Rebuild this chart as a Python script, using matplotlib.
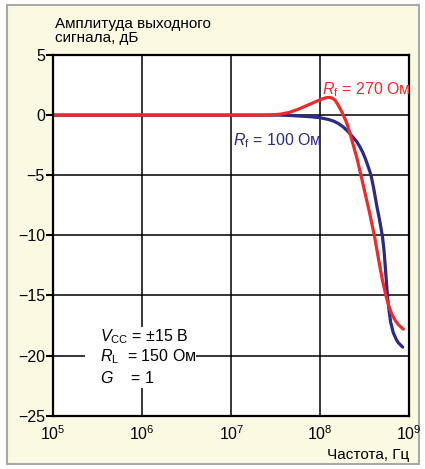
import matplotlib
matplotlib.use("Agg")
import matplotlib.pyplot as plt
from matplotlib.patches import Rectangle
from matplotlib import font_manager

# Frequency response data (log10 of frequency in Hz, amplitude in dB)
logf_270 = [5.0, 7.32, 7.45, 7.55, 7.65, 7.75, 7.85, 7.95, 8.02, 8.06, 8.10, 8.13,
            8.165, 8.20, 8.22, 8.24, 8.258, 8.28, 8.30, 8.334, 8.371, 8.409, 8.457,
            8.50, 8.55, 8.607, 8.65, 8.70, 8.737, 8.767, 8.80, 8.84, 8.88, 8.933]
gain_270 = [0.0, 0.0, 0.02, 0.08, 0.22, 0.48, 0.80, 1.12, 1.34, 1.44, 1.47, 1.43,
            1.25, 0.85, 0.56, 0.30, 0.0, -0.35, -0.72, -1.53, -2.5, -3.5, -5.0,
            -6.4, -8.0, -10.0, -11.8, -13.8, -15.0, -15.8, -16.5, -17.05, -17.45, -17.8]

logf_100 = [5.0, 7.55, 7.65, 7.77, 7.90, 8.00, 8.09, 8.15, 8.202, 8.26, 8.315, 8.36,
            8.409, 8.45, 8.483, 8.51, 8.539, 8.57, 8.60, 8.636, 8.66, 8.68, 8.70,
            8.715, 8.73, 8.745, 8.757, 8.77, 8.79, 8.82, 8.85, 8.873, 8.926]
gain_100 = [0.0, 0.0, -0.03, -0.08, -0.14, -0.22, -0.36, -0.5, -0.69, -1.0, -1.39, -1.78,
            -2.2, -2.7, -3.2, -3.7, -4.3, -5.0, -6.1, -7.6, -8.5, -9.3, -10.2,
            -11.2, -12.6, -14.1, -15.2, -16.1, -17.2, -18.1, -18.6, -18.9, -19.3]

x_ticks = [1e5, 1e6, 1e7, 1e8, 1e9]
x_tick_labels = [r"$10^{5}$", r"$10^{6}$", r"$10^{7}$", r"$10^{8}$", r"$10^{9}$"]
y_ticks = [5, 0, -5, -10, -15, -20, -25]
y_tick_labels = ["5", "0", "\u22125", "\u221210", "\u221215", "\u221220", "\u221225"]

names = {f.name for f in font_manager.fontManager.ttflist}
base = "Liberation Sans Narrow" if "Liberation Sans Narrow" in names else "Liberation Sans"
plt.rcParams["font.family"] = [base, "DejaVu Sans"]
plt.rcParams["mathtext.fontset"] = "custom"
plt.rcParams["mathtext.rm"] = base
plt.rcParams["mathtext.it"] = base + ":italic"
plt.rcParams["mathtext.bf"] = base + ":bold"

RED = "#ee2b2b"
BLUE = "#2c2a85"
CREAM = "#fcf9e3"
FS = 11

fig = plt.figure(figsize=(4.25, 4.69), dpi=100)
fig.patch.set_facecolor("white")
fig.patches.append(Rectangle((7 / 425, 1 - 464 / 469), (419 - 7) / 425, (464 - 5) / 469,
                             transform=fig.transFigure, facecolor=CREAM,
                             edgecolor="#a9a9a9", linewidth=1.5, zorder=-10))

ax = fig.add_axes([53.3 / 425, 1 - 415.7 / 469, (409.3 - 53.3) / 425, (415.7 - 55) / 469])
ax.set_facecolor("white")
ax.set_xscale("log")
ax.set_xlim(1e5, 1e9)
ax.set_ylim(-25, 5)

ax.grid(True, which="major", color="black", linewidth=1.1, zorder=1)
ax.minorticks_off()
ax.set_xticks(x_ticks)
ax.set_xticklabels(x_tick_labels, fontsize=FS + 0.5)
ax.set_yticks(y_ticks)
ax.set_yticklabels(y_tick_labels, fontsize=FS + 0.5)
ax.tick_params(axis="y", direction="out", length=5, width=1.5, pad=1)
ax.tick_params(axis="x", direction="out", length=0, width=1.5, pad=6)
for s in ax.spines.values():
    s.set_linewidth(1.6)
    s.set_zorder(5)

ax.plot([10 ** v for v in logf_100], gain_100, color=BLUE, linewidth=2.3,
        solid_capstyle="round", solid_joinstyle="round", zorder=4)
ax.plot([10 ** v for v in logf_270], gain_270, color=RED, linewidth=2.3,
        solid_capstyle="round", solid_joinstyle="round", zorder=4)

ax.text(10 ** 8.02, 2.1, r"$\mathit{R}_{\mathrm{f}}$ = 270 Ом", color=RED, fontsize=FS + 0.5,
        ha="left", va="center", zorder=6)
ax.text(10 ** 7.02, -2.15, r"$\mathit{R}_{\mathrm{f}}$ = 100 Ом", color=BLUE, fontsize=FS + 0.5,
        ha="left", va="center", zorder=6)

# Operating conditions block, drawn over the grid
ax.add_patch(Rectangle((10 ** 5.36, -22.7), 10 ** 6.6 - 10 ** 5.36, 5.1, facecolor="white",
                       edgecolor="none", zorder=2))
ax.text(10 ** 5.53, -18.4, r"$\mathit{V}_{\mathrm{CC}}$ = ±15 В", fontsize=FS + 0.5, va="center", zorder=6)
ax.text(10 ** 5.53, -20.1, r"$\mathit{R}_{\mathrm{L}}$  = 150 Ом", fontsize=FS + 0.5, va="center", zorder=6)
ax.text(10 ** 5.53, -21.85, r"$\mathit{G}$    = 1", fontsize=FS + 0.5, va="center", zorder=6)

fig.text(55 / 425, 1 - 31 / 469, "Амплитуда выходного\nсигнала, дБ", fontsize=FS,
         ha="left", va="center", linespacing=1.05)
fig.text(409 / 425, 1 - 455 / 469, "Частота, Гц", fontsize=FS, ha="right", va="center")

fig.savefig("out.png", dpi=100)
